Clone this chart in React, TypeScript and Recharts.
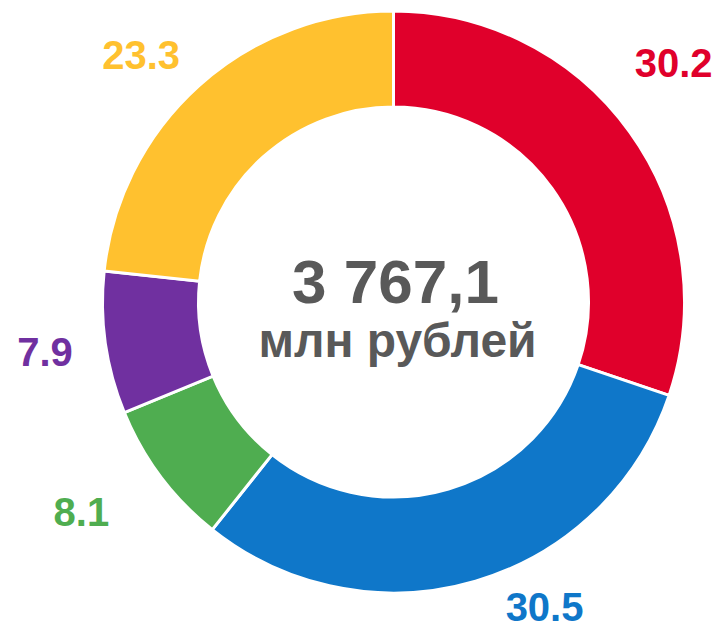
import { PieChart, Pie, Cell, Label } from 'recharts'

const shares = [30.2, 30.5, 8.1, 7.9, 23.3]
const sliceNames = ['s1', 's2', 's3', 's4', 's5']
const sliceColors = ['#E0002B', '#0F77C9', '#4FAD50', '#7030A0', '#FFC12F']
const totalValue = '3 767,1'
const totalUnit = 'млн рублей'

// manual nudges so the labels sit where the original ones were dragged to
const labelAngleShift = [4.8, 10, -3, 0, 3.7]
const labelDist = [368, 340, 376, 352, 353]

const data = shares.map((v, i) => ({ name: sliceNames[i], value: v }))

const FONT = '"Liberation Sans", Arial, sans-serif'
const RAD = Math.PI / 180
const CX = 393.5
const CY = 302

function renderLabel(props: any) {
  const { cx, cy, midAngle, index } = props
  const a = (midAngle + labelAngleShift[index]) * RAD
  const r = labelDist[index]
  const x = cx + r * Math.cos(a)
  const y = cy - r * Math.sin(a)
  return (
    <text
      x={x}
      y={y + 14}
      textAnchor="middle"
      fill={sliceColors[index]}
      fontFamily={FONT}
      fontWeight="bold"
      fontSize={40}
    >
      {shares[index].toFixed(1)}
    </text>
  )
}

function renderCenter() {
  return (
    <g>
      <text x={CX + 2} y={CY + 1} textAnchor="middle" fill="#595959" fontFamily={FONT} fontWeight="bold" fontSize={62}>
        {totalValue}
      </text>
      <text x={CX + 4} y={CY + 55} textAnchor="middle" fill="#595959" fontFamily={FONT} fontWeight="bold" fontSize={48}>
        {totalUnit}
      </text>
    </g>
  )
}

export default function App() {
  return (
    <div style={{ position: 'absolute', left: 0, top: 0, width: 723, height: 628, background: '#fff' }}>
      <PieChart width={723} height={628} margin={{ top: 0, right: 0, bottom: 0, left: 0 }}>
        <Pie
          data={data}
          dataKey="value"
          cx={CX}
          cy={CY}
          innerRadius={195}
          outerRadius={291}
          startAngle={90}
          endAngle={-270}
          stroke="#fff"
          strokeWidth={3}
          label={renderLabel}
          labelLine={false}
          isAnimationActive={false}
        >
          {data.map((d, i) => (
            <Cell key={d.name} fill={sliceColors[i]} />
          ))}
          <Label position="center" content={renderCenter} />
        </Pie>
      </PieChart>
    </div>
  )
}
